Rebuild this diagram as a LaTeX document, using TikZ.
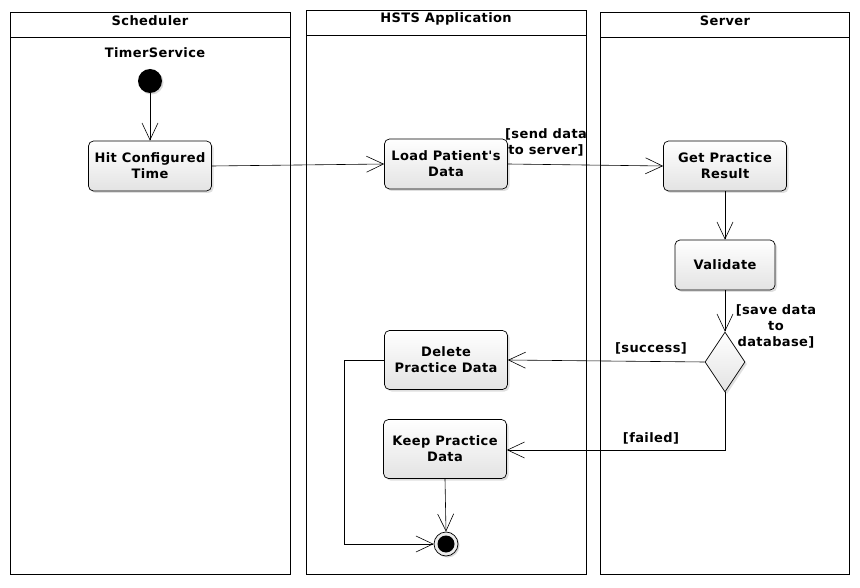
\documentclass[tikz,border=0pt]{standalone}
\usepackage{fontspec}
\setmainfont{DejaVu Sans}
\newfontfamily\dvbold{DejaVu Sans Bold}[LetterSpace=3]
\usetikzlibrary{arrows.meta,shapes.geometric,shadows}
\tikzset{
  lane/.style={draw, line width=0.9pt},
  lanetitle/.style={font=\dvbold\fontsize{13}{14}\selectfont, anchor=center},
  act/.style={draw, line width=0.7pt, rounded corners=5pt, top color=white, bottom color=gray!22,
    drop shadow={opacity=0.25, shadow xshift=2pt, shadow yshift=-2pt},
    minimum width=123pt, minimum height=50pt, align=center, inner sep=2pt,
    font=\dvbold\fontsize{13}{16}\selectfont},
  guard/.style={font=\dvbold\fontsize{13}{16}\selectfont, align=center, inner sep=0pt},
  flow/.style={-{Straight Barb[length=17pt,width=16pt]}, line width=0.6pt},
  decis/.style={diamond, draw, line width=0.7pt, top color=white, bottom color=gray!22,
    drop shadow={opacity=0.25, shadow xshift=2pt, shadow yshift=-2pt},
    minimum width=40pt, minimum height=60pt, inner sep=0pt},
}
\begin{document}
\begin{tikzpicture}[x=1pt,y=-1pt]
\useasboundingbox[fill=white] (0,0) rectangle (860,588);
% lanes
\draw[lane] (10,12) rectangle (290,574);
\draw[lane] (10,37) -- (290,37);
\node[lanetitle] (tsched) at (150,21) {Scheduler};
\draw[lane] (306,10) rectangle (586,574);
\draw[lane] (306,35) -- (586,35);
\node[lanetitle] (thsts) at (446,19) {HSTS Application};
\draw[lane] (600,12) rectangle (849,574);
\draw[lane] (600,37) -- (849,37);
\node[lanetitle] (tserv) at (725,21) {Server};

\node[lanetitle] (timer) at (155,53) {TimerService};
\node[circle, fill=black, minimum size=24pt, inner sep=0pt,
  drop shadow={opacity=0.3, shadow xshift=1.5pt, shadow yshift=-1.5pt}] (init) at (150,81) {};
\node[act] (hit) at (150,166) {Hit Configured\\Time};
\node[act] (load) at (446,164) {Load Patient's\\Data};
\node[act] (get) at (725,166) {Get Practice\\Result};
\node[act, minimum width=100pt] (valid) at (725,265) {Validate};
\node[decis] (dec) at (725,362) {};
\node[act, minimum height=59pt] (del) at (446,360) {Delete\\Practice Data};
\node[act, minimum height=59pt] (keep) at (445,449) {Keep Practice\\Data};
\node[circle, draw, line width=0.7pt, fill=gray!15, minimum size=24pt, inner sep=0pt,
  drop shadow={opacity=0.3, shadow xshift=1.5pt, shadow yshift=-1.5pt}] (final) at (446,544) {};
\node[circle, fill=black, minimum size=17pt, inner sep=0pt] (finaldot) at (final.center) {};

\coordinate (fc) at (725,450);
\coordinate (dl1) at (344,360);
\coordinate (dl2) at (344,544);

\draw[flow] (init) -- (hit);
\draw[flow] (hit.east) -- (load.west);
\draw[flow] (load.east) -- (get.west);
\draw[flow] (get) -- (valid);
\draw[flow] (valid) -- (dec.north);
\draw[flow] (dec.west) -- (del.east);
\draw[flow] (dec.south) -- (fc) -- (keep.east |- fc);
\draw[flow] (del.west) -- (dl1) -- (dl2) -- (final.west);
\draw[flow] (keep.south) -- (final.north);

\node[guard] (g1) at (546,142) {[send data\\to server]};
\node[guard] (g2) at (776,326) {[save data\\to\\database]};
\node[guard] (g3) at (651,348) {[success]};
\node[guard] (g4) at (651,438) {[failed]};
\end{tikzpicture}
\end{document}
